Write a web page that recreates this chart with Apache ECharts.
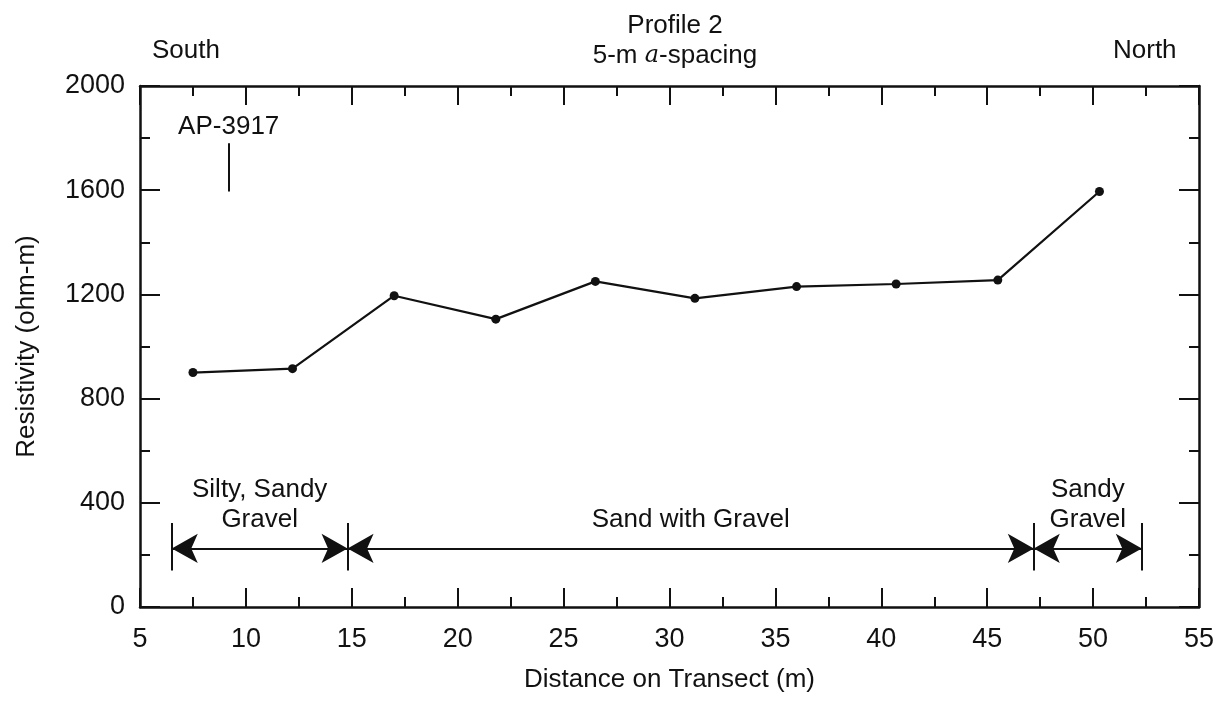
<!DOCTYPE html>
<html>
<head>
<meta charset="utf-8">
<title>Profile 2</title>
<script src="https://cdn.jsdelivr.net/npm/echarts@6/dist/echarts.min.js"></script>
<style>
	html, body { margin: 0; padding: 0; background: #fff; }
	#chart { width: 1225px; height: 705px; }
</style>
</head>
<body>
<div id="chart"></div>
<script>
	// measured points, profile 2
	var distance = [7.5, 12.2, 17.0, 21.8, 26.5, 31.2, 36.0, 40.7, 45.5, 50.3];
	var resistivity = [900, 915, 1195, 1105, 1250, 1185, 1230, 1240, 1255, 1595];

	// material zones along the transect
	var zoneBounds = [6.5, 14.8, 47.2, 52.3];
	var zoneNames = ['Silty, Sandy\nGravel', 'Sand with Gravel', 'Sandy\nGravel'];
	var zoneLevel = 225;
	var zoneBar = [140, 322];

	// well marker
	var wellName = 'AP-3917';
	var wellX = 9.2;
	var wellSpan = [1595, 1780];
	var wellLabelAt = [6.8, 1844];

	var font = '"Liberation Sans", Arial, sans-serif';
	var ink = '#111';

	var zoneLines = [];
	for (var i = 0; i < zoneNames.length; i++) {
		zoneLines.push([
			{ coord: [zoneBounds[i], zoneLevel], symbol: 'arrow' },
			{ coord: [zoneBounds[i + 1], zoneLevel], symbol: 'arrow' }
		]);
	}
	var barLines = zoneBounds.map(function (x) {
		return [{ coord: [x, zoneBar[0]], symbol: 'none' }, { coord: [x, zoneBar[1]], symbol: 'none' }];
	});
	barLines.push([{ coord: [wellX, wellSpan[0]], symbol: 'none' }, { coord: [wellX, wellSpan[1]], symbol: 'none' }]);

	var zoneLabels = zoneNames.map(function (name, i) {
		return {
			coord: [(zoneBounds[i] + zoneBounds[i + 1]) / 2, zoneLevel],
			label: { formatter: name }
		};
	});

	var axisX = {
		type: 'value', min: 5, max: 55, interval: 5,
		axisLine: { onZero: false, lineStyle: { color: ink, width: 2.5 } },
		axisTick: { inside: true, length: 19, lineStyle: { color: ink, width: 2 } },
		minorTick: { show: true, splitNumber: 2, length: 10, lineStyle: { color: ink, width: 2 } },
		splitLine: { show: false }
	};
	var axisY = {
		type: 'value', min: 0, max: 2000, interval: 400,
		axisLine: { show: true, onZero: false, lineStyle: { color: ink, width: 2.5 } },
		axisTick: { show: true, inside: true, length: 20, lineStyle: { color: ink, width: 2 } },
		minorTick: { show: true, splitNumber: 2, length: 10, lineStyle: { color: ink, width: 2 } },
		splitLine: { show: false }
	};

	var chart = echarts.init(document.getElementById('chart'));
	chart.setOption({
		animation: false,
		backgroundColor: '#fff',
		textStyle: { fontFamily: font, color: ink },
		title: {
			left: 670, top: 6, textAlign: 'center',
			text: '{n|Profile 2}\n{n|5-m }{i|a}{n|-spacing}',
			textStyle: {
				rich: {
					n: { fontFamily: font, fontSize: 26, color: ink, lineHeight: 30, fontWeight: 'normal' },
					i: { fontFamily: 'DejaVu Serif, serif', fontSize: 24, color: ink, fontStyle: 'italic', lineHeight: 30, fontWeight: 'normal' }
				}
			}
		},
		graphic: [
			{ type: 'text', left: 152, top: 38, style: { text: 'South', font: '26px ' + font, fill: ink } },
			{ type: 'text', left: 1113, top: 38, style: { text: 'North', font: '26px ' + font, fill: ink } }
		],
		grid: { left: 140, right: 26, top: 86, bottom: 98 },
		xAxis: [
			echarts.util.merge({
				position: 'bottom',
				name: 'Distance on Transect (m)', nameLocation: 'middle', nameGap: 60,
				nameTextStyle: { fontSize: 26, color: ink, fontFamily: font },
				axisLabel: { fontSize: 27, color: ink, margin: 19, fontFamily: font }
			}, axisX, true),
			echarts.util.merge({ position: 'top', axisLabel: { show: false } }, axisX, true)
		],
		yAxis: [
			echarts.util.merge({
				position: 'left',
				name: 'Resistivity (ohm-m)', nameLocation: 'middle', nameGap: 100,
				nameTextStyle: { fontSize: 26, color: ink, fontFamily: font },
				axisLabel: {
					fontSize: 27, color: ink, margin: 15, fontFamily: font,
					formatter: function (v) { return String(v); }
				}
			}, axisY, true),
			echarts.util.merge({ position: 'right', axisLabel: { show: false } }, axisY, true)
		],
		series: [
			{
				type: 'line',
				data: distance.map(function (d, i) { return [d, resistivity[i]]; }),
				symbol: 'circle', symbolSize: 9,
				lineStyle: { color: ink, width: 2.2 },
				itemStyle: { color: ink },
				z: 5
			},
			{
				type: 'line', data: [], silent: true,
				markLine: {
					silent: true, animation: false,
					symbolSize: [22, 26],
					label: { show: false },
					lineStyle: { color: ink, width: 2, type: 'solid' },
					data: zoneLines.concat(barLines)
				},
				markPoint: {
					silent: true, symbol: 'circle', symbolSize: 0,
					label: {
						show: true, position: 'top', distance: 14,
						fontSize: 26, color: ink, fontFamily: font, lineHeight: 30, align: 'center'
					},
					data: zoneLabels.concat([{
						coord: wellLabelAt,
						label: { formatter: wellName, position: 'right', distance: 0, align: 'left', fontSize: 26 }
					}])
				}
			}
		]
	});
</script>
</body>
</html>
